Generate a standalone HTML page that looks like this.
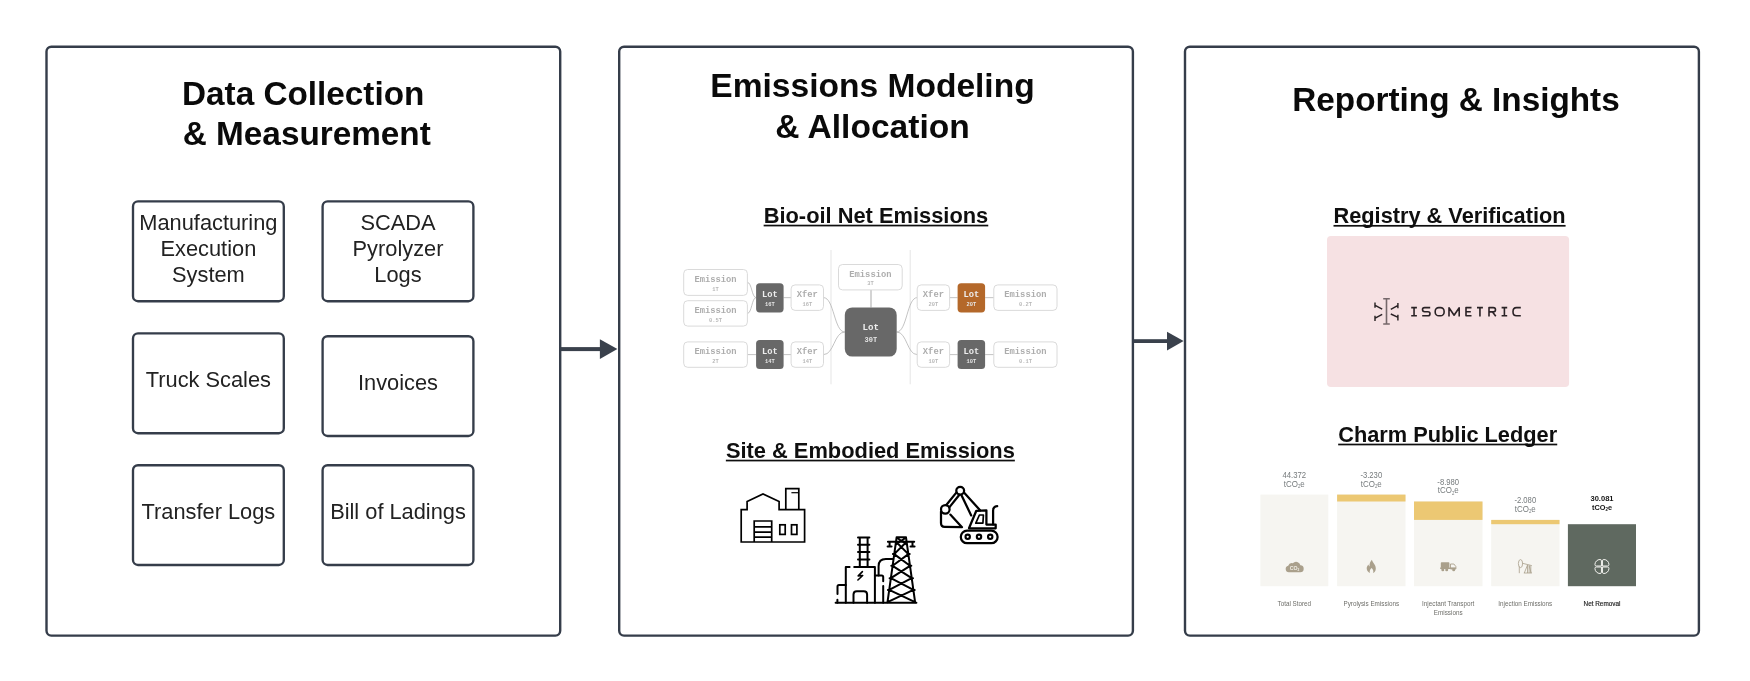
<!DOCTYPE html>
<html><head><meta charset="utf-8">
<style>
html,body{margin:0;padding:0;background:#fff;}
body{width:1750px;height:681px;overflow:hidden;font-family:"Liberation Sans",sans-serif;}
svg{display:block;}
text{font-family:"Liberation Sans",sans-serif;}
.t1{font-weight:bold;font-size:33.3px;fill:#0a0a0a;text-anchor:middle;}
.t2{font-weight:bold;font-size:21.85px;fill:#0f0f0f;text-anchor:middle;}
.bx{fill:#fff;stroke:#353d4a;stroke-width:2.35;}
.bt{font-size:21.8px;fill:#222;text-anchor:middle;}
.pn{fill:#fff;stroke:#353d4a;stroke-width:2.4;}
.mono{font-family:"Liberation Mono",monospace;font-weight:bold;text-anchor:middle;}
</style></head>
<body>
<svg width="1750" height="681" viewBox="0 0 1750 681" style="opacity:0.999">
<defs>
<filter id="bl" x="-5%" y="-5%" width="110%" height="110%"><feGaussianBlur stdDeviation="0.55"/></filter>
<filter id="bl2" x="-5%" y="-5%" width="110%" height="110%"><feGaussianBlur stdDeviation="0.45"/></filter>
<filter id="bl3" x="-5%" y="-10%" width="110%" height="120%"><feGaussianBlur stdDeviation="0.4"/></filter>
<filter id="bl4" x="-2%" y="-5%" width="104%" height="110%"><feGaussianBlur stdDeviation="0.68"/></filter>
</defs>
<!-- PANELS -->
<rect class="pn" x="46.5" y="46.7" width="513.7" height="588.9" rx="4.8"/>
<rect class="pn" x="619.2" y="46.7" width="513.7" height="588.9" rx="4.8"/>
<rect class="pn" x="1185" y="46.7" width="513.9" height="588.9" rx="4.8"/>
<!-- ARROWS -->
<g fill="#3a414c" stroke="none">
<rect x="561" y="347.1" width="40" height="4"/>
<polygon points="599.9,339.2 617.4,349.1 599.9,359.1"/>
<rect x="1134" y="339.2" width="34" height="3.8"/>
<polygon points="1167,331.8 1183.6,341.1 1167,350.4"/>
</g>
<!-- PANEL 1 -->
<g id="p1">
<text class="t1" x="303.2" y="104.7">Data Collection</text>
<text class="t1" x="306.8" y="144.5">&amp; Measurement</text>
<rect class="bx" x="133" y="201.4" width="150.8" height="99.8" rx="5"/>
<rect class="bx" x="322.6" y="201.4" width="150.8" height="99.8" rx="5"/>
<rect class="bx" x="133" y="333.4" width="150.8" height="99.8" rx="5"/>
<rect class="bx" x="322.6" y="336.2" width="150.8" height="99.8" rx="5"/>
<rect class="bx" x="133" y="465.2" width="150.8" height="99.8" rx="5"/>
<rect class="bx" x="322.6" y="465.2" width="150.8" height="99.8" rx="5"/>
<text class="bt" x="208.4" y="229.7">Manufacturing</text>
<text class="bt" x="208.4" y="255.7">Execution</text>
<text class="bt" x="208.4" y="281.6">System</text>
<text class="bt" x="398" y="229.7">SCADA</text>
<text class="bt" x="398" y="255.7">Pyrolyzer</text>
<text class="bt" x="398" y="281.6">Logs</text>
<text class="bt" x="208.4" y="386.6">Truck Scales</text>
<text class="bt" x="398" y="390">Invoices</text>
<text class="bt" x="208.4" y="518.6">Transfer Logs</text>
<text class="bt" x="398" y="518.6">Bill of Ladings</text>
</g>
<!-- PANEL 2 -->
<g id="p2">
<text class="t1" x="872.5" y="97.2" style="font-size:33.55px">Emissions Modeling</text>
<text class="t1" x="872.5" y="137.6" style="font-size:33.55px">&amp; Allocation</text>
<text class="t2" x="875.95" y="223.1" style="font-size:21.85px">Bio-oil Net Emissions</text><rect class="ul" x="763.65" y="224.70" width="224.61" height="1.7" fill="#0f0f0f"/>
<g id="nodes" filter="url(#bl)">
<path d="M831 250V384.3M910.2 250V384.3" stroke="#e2e2e2" stroke-width="0.9" fill="none"/>
<path d="M747.4 282.4C751.8 282.4 751.8 297.6 756.1 297.6M747.4 313.4C751.8 313.4 751.8 297.6 756.1 297.6M783.6 297.65H791.1M823.5 297.6C834.1 297.6 834.1 332.0 844.8 332.0M747.4 354.6H756.1M783.6 354.6H791.1M823.5 354.6C834.1 354.6 834.1 332.0 844.8 332.0M896.7 332.0C907.0 332.0 907.0 297.6 917.2 297.6M896.7 332.0C907.0 332.0 907.0 354.6 917.2 354.6M949.6 297.65H957.6M985.1 297.65H993.8M949.6 354.6H957.6M985.1 354.6H993.8" stroke="#b4b4b4" stroke-width="0.8" fill="none"/>
<path d="M871 289.9V307.4" stroke="#858585" stroke-width="0.7" fill="none"/>
<rect x="683.7" y="269.5" width="63.7" height="25.9" rx="4" fill="#fff" stroke="#d6d6d6" stroke-width="0.9"/>
<text class="mono" x="715.5" y="281.8" font-size="8.8" fill="#adadad">Emission</text><text class="mono" x="715.5" y="290.6" font-size="5.4" fill="#b8b8b8">1T</text>
<rect x="683.7" y="300.7" width="63.7" height="25.4" rx="4" fill="#fff" stroke="#d6d6d6" stroke-width="0.9"/>
<text class="mono" x="715.5" y="312.7" font-size="8.8" fill="#adadad">Emission</text><text class="mono" x="715.5" y="321.5" font-size="5.4" fill="#b8b8b8">0.5T</text>
<rect x="683.7" y="341.9" width="63.7" height="25.4" rx="4" fill="#fff" stroke="#d6d6d6" stroke-width="0.9"/>
<text class="mono" x="715.5" y="353.9" font-size="8.8" fill="#adadad">Emission</text><text class="mono" x="715.5" y="362.7" font-size="5.4" fill="#b8b8b8">2T</text>
<rect x="756.1" y="283.2" width="27.5" height="29.2" rx="3.6" fill="#686868"/>
<text class="mono" x="769.9" y="297.1" font-size="8.8" fill="#eeeeee">Lot</text><text class="mono" x="769.9" y="305.9" font-size="5.4" fill="#e6e6e6">16T</text>
<rect x="756.1" y="339.9" width="27.5" height="29.2" rx="3.6" fill="#686868"/>
<text class="mono" x="769.9" y="353.8" font-size="8.8" fill="#eeeeee">Lot</text><text class="mono" x="769.9" y="362.6" font-size="5.4" fill="#e6e6e6">14T</text>
<rect x="791.1" y="284.9" width="32.4" height="25.5" rx="4" fill="#fff" stroke="#d6d6d6" stroke-width="0.9"/>
<text class="mono" x="807.3" y="297.0" font-size="8.8" fill="#adadad">Xfer</text><text class="mono" x="807.3" y="305.7" font-size="5.4" fill="#b8b8b8">16T</text>
<rect x="791.1" y="341.9" width="32.4" height="25.4" rx="4" fill="#fff" stroke="#d6d6d6" stroke-width="0.9"/>
<text class="mono" x="807.3" y="353.9" font-size="8.8" fill="#adadad">Xfer</text><text class="mono" x="807.3" y="362.7" font-size="5.4" fill="#b8b8b8">14T</text>
<rect x="838.5" y="264.5" width="63.7" height="25.4" rx="4" fill="#fff" stroke="#d6d6d6" stroke-width="0.9"/>
<text class="mono" x="870.4" y="276.5" font-size="8.8" fill="#adadad">Emission</text><text class="mono" x="870.4" y="285.3" font-size="5.4" fill="#b8b8b8">3T</text>
<rect x="917.2" y="284.9" width="32.4" height="25.5" rx="4" fill="#fff" stroke="#d6d6d6" stroke-width="0.9"/>
<text class="mono" x="933.4" y="297.0" font-size="8.8" fill="#adadad">Xfer</text><text class="mono" x="933.4" y="305.7" font-size="5.4" fill="#b8b8b8">20T</text>
<rect x="917.2" y="341.9" width="32.4" height="25.4" rx="4" fill="#fff" stroke="#d6d6d6" stroke-width="0.9"/>
<text class="mono" x="933.4" y="353.9" font-size="8.8" fill="#adadad">Xfer</text><text class="mono" x="933.4" y="362.7" font-size="5.4" fill="#b8b8b8">10T</text>
<rect x="957.6" y="283.2" width="27.5" height="29.2" rx="3.6" fill="#b4682a"/>
<text class="mono" x="971.4" y="297.1" font-size="8.8" fill="#eeeeee">Lot</text><text class="mono" x="971.4" y="305.9" font-size="5.4" fill="#e6e6e6">20T</text>
<rect x="957.6" y="339.9" width="27.5" height="29.2" rx="3.6" fill="#686868"/>
<text class="mono" x="971.4" y="353.8" font-size="8.8" fill="#eeeeee">Lot</text><text class="mono" x="971.4" y="362.6" font-size="5.4" fill="#e6e6e6">10T</text>
<rect x="993.8" y="284.9" width="63.2" height="25.5" rx="4" fill="#fff" stroke="#d6d6d6" stroke-width="0.9"/>
<text class="mono" x="1025.4" y="297.0" font-size="8.8" fill="#adadad">Emission</text><text class="mono" x="1025.4" y="305.7" font-size="5.4" fill="#b8b8b8">0.2T</text>
<rect x="993.8" y="341.9" width="63.2" height="25.4" rx="4" fill="#fff" stroke="#d6d6d6" stroke-width="0.9"/>
<text class="mono" x="1025.4" y="353.9" font-size="8.8" fill="#adadad">Emission</text><text class="mono" x="1025.4" y="362.7" font-size="5.4" fill="#b8b8b8">0.1T</text>
<rect x="844.8" y="307.4" width="51.9" height="49.2" rx="7.5" fill="#686868"/>
<text class="mono" x="870.8" y="330.0" font-size="9.2" fill="#eeeeee">Lot</text><text class="mono" x="870.8" y="341.5" font-size="7.0" fill="#e6e6e6">30T</text>
</g>
<text class="t2" x="870.35" y="458.0" style="font-size:21.85px">Site &amp; Embodied Emissions</text><rect class="ul" x="725.86" y="459.70" width="288.99" height="1.7" fill="#0f0f0f"/>
<g id="factory" filter="url(#bl2)" fill="none" stroke="#000" stroke-width="1.7" stroke-linejoin="miter">
<path d="M741.2 542V509.6H747.1V501.5L763 494L779.1 501.5V509.6H804.6V542Z"/>
<path d="M785.8 509.6V488.6H798.8V509.6"/>
<path d="M791.4 492.7H798" stroke-width="1.2"/>
<path d="M754.2 542V521H771.7V542M754.2 526.8H771.7M754.2 532.1H771.7M754.2 537.2H771.7"/>
<rect x="779.8" y="524.8" width="5.4" height="9.6"/>
<rect x="791.5" y="524.8" width="5.4" height="9.6"/>
</g>
<g id="plant" filter="url(#bl2)" fill="none" stroke="#000" stroke-width="2" stroke-linejoin="round" stroke-linecap="round">
<path d="M835.6 602.7H916.4"/>
<path d="M896.6 537.3L887.5 602.2M906.0 537.3L915.1 602.2M896.6 537.3H906.0M896.0 541.75L908.4 554.1M906.6 541.75L894.2 554.1M894.2 554.1L910.0 565.8M908.4 554.1L892.6 565.8M892.6 565.8L911.7 578.2M910.0 565.8L890.9 578.2M890.9 578.2L913.4 589.9M911.7 578.2L889.2 589.9M889.2 589.9L915.1 602.2M913.4 589.9L887.5 602.2M897.6 538.3L906.1 544.25M905.0 538.3L896.5 544.25M887.9 541.8H914.2M889.6 541.8V546.3M912.5 541.8V546.3M887.6 546.5H891.6M910.5 546.5H914.6M892.9 554.1H895.2M907.4 554.1H909.7M891.3 565.8H893.6M909.0 565.8H911.3M889.6 578.2H891.9M910.7 578.2H913.0M887.9 589.9H890.2M912.4 589.9H914.7" stroke-width="2"/>
<path d="M845.8 602.7V567.1H849.6M854.2 567.1H874.9V602.7"/>
<path d="M859.8 567V537.4M867.6 567V537.4M858 537.4H869.4M858 544.8H869.4M858 552.1H869.4M858 559.4H869.4"/>
<path d="M845.8 584.9H839Q837.5 584.9 837.5 586.4V594M837.4 599.8V602.7"/>
<path d="M853.5 602.7V594.6Q853.5 591.3 856.8 591.3H863.8Q867.1 591.3 867.1 594.6V602.7"/>
<path d="M874.9 575.5H881.7Q883.2 575.5 883.2 577V581.2M883.2 586V602.7"/>
<path d="M878.6 575.5V566.3Q878.6 559.1 885.8 559.1H892.6"/>
<path d="M862.4 571.6L858.2 575.9L862.7 575.5L857.9 580" stroke-width="1.6"/>
</g>
<g id="excav" filter="url(#bl2)" fill="none" stroke="#000" stroke-width="2.25" stroke-linejoin="round" stroke-linecap="round">
<circle cx="960.2" cy="490.8" r="3.9"/>
<circle cx="945.3" cy="509.3" r="4.3"/>
<path d="M956.5 492.4L946.3 505.0M959.4 494.8L949.3 507.4"/>
<path d="M941 511.5V523Q941 526.9 944.6 526.9L962 527.2L950.3 514.6"/>
<path d="M964.2 492.8L980.3 510.4M961.6 495.6L971.2 515.4"/>
<path d="M969 528.3L976.3 510.8L986.4 510.4V524.6H995.7V528.3Z"/>
<path d="M979.4 515H983.4L982.9 523.2H975.8Z" stroke-width="1.7"/>
<path d="M993.1 524.4V510.6Q993.1 506.6 997.2 506.2"/>
<rect x="960.8" y="530.6" width="36.8" height="12.6" rx="6.3"/>
<circle cx="967.7" cy="536.8" r="2.2" stroke-width="2.1"/>
<circle cx="979" cy="536.8" r="2.2" stroke-width="2.1"/>
<circle cx="990.2" cy="536.8" r="2.2" stroke-width="2.1"/>
</g>
</g>
<!-- PANEL 3 -->
<g id="p3">
<text class="t1" x="1456" y="110.6">Reporting &amp; Insights</text>
<text class="t2" x="1449.55" y="223.1" style="font-size:21.75px">Registry &amp; Verification</text><rect class="ul" x="1333.51" y="224.95" width="232.08" height="1.7" fill="#0f0f0f"/>
<rect x="1327" y="235.9" width="242.1" height="151.2" rx="4" fill="#f6e1e3"/>
<g id="iso" filter="url(#bl3)" fill="none" stroke="#2b2426" stroke-width="1.6" stroke-linejoin="round">
<path d="M1386.5 298.7V324M1383.2 298.7H1389.8M1383.2 324H1389.8" stroke="#75676a" stroke-width="1.6"/>
<path d="M1375 302.6V307.8M1375.2 305.4L1382.2 309.2M1375 315.8V321M1375.2 318.1L1382.2 314.3M1397.9 303V308.2M1397.6 305.6L1390.8 309.4M1397.9 314.8V320.4M1397.6 317.2L1390.8 314" stroke-width="1.45"/>
<path d="M1411.2 307.6H1416.9M1414.05 307.6V315.8M1411.2 315.8H1416.9"/>
<path d="M1430.2 307.6H1424.6Q1422.5 307.6 1422.5 309.6Q1422.5 311.7 1424.6 311.7H1427.9Q1430 311.7 1430 313.7Q1430 315.8 1427.9 315.8H1422.2"/>
<rect x="1435.2" y="307.6" width="8.9" height="8.2" rx="3.6"/>
<path d="M1449 316.4V307.8L1454.1 315.2L1459.2 307.8V316.4"/>
<path d="M1471.5 307.6H1466V315.8H1471.5M1466 311.7H1470.8"/>
<path d="M1477 307.6H1482.9M1479.95 307.6V316.4"/>
<path d="M1489 316.4V307.6H1493.3Q1495.5 307.6 1495.5 309.7Q1495.5 311.9 1493.3 311.9H1489M1492.5 311.9L1495.8 316.2"/>
<path d="M1501.6 307.6H1507.2M1504.4 307.6V315.8M1501.6 315.8H1507.2"/>
<path d="M1520.8 307.6H1516.5Q1513 307.6 1513 311.7Q1513 315.8 1516.5 315.8H1520.8"/>
</g>
<text class="t2" x="1447.7" y="441.9" style="font-size:21.78px">Charm Public Ledger</text><rect class="ul" x="1338.17" y="443.65" width="219.06" height="1.7" fill="#0f0f0f"/>
<g id="chart" filter="url(#bl4)">
<rect x="1260.4" y="494.6" width="67.9" height="91.6" fill="#f6f5f1"/>
<rect x="1337.1" y="494.6" width="68.4" height="91.6" fill="#f6f5f1"/>
<rect x="1337.1" y="494.6" width="68.4" height="6.9" fill="#ecc873"/>
<rect x="1414.0" y="501.5" width="68.5" height="84.7" fill="#f6f5f1"/>
<rect x="1414.0" y="501.5" width="68.5" height="18.4" fill="#ecc873"/>
<rect x="1491.2" y="519.9" width="68.3" height="66.3" fill="#f6f5f1"/>
<rect x="1491.2" y="519.9" width="68.3" height="4.3" fill="#ecc873"/>
<rect x="1567.9" y="524.2" width="68.1" height="62.0" fill="#5f6960"/>
<text x="1294.3" y="478.0" text-anchor="middle" font-size="8.6" fill="#757a7c" textLength="23.7" lengthAdjust="spacingAndGlyphs">44.372</text>
<text x="1294.3" y="486.7" text-anchor="middle" font-size="8.6" fill="#757a7c" textLength="21" lengthAdjust="spacingAndGlyphs">tCO<tspan font-size="4.6" dy="1.2">2</tspan><tspan dy="-1.2">e</tspan></text>
<text x="1371.3" y="478.0" text-anchor="middle" font-size="8.6" fill="#757a7c" textLength="21.7" lengthAdjust="spacingAndGlyphs">-3.230</text>
<text x="1371.3" y="486.7" text-anchor="middle" font-size="8.6" fill="#757a7c" textLength="21" lengthAdjust="spacingAndGlyphs">tCO<tspan font-size="4.6" dy="1.2">2</tspan><tspan dy="-1.2">e</tspan></text>
<text x="1448.2" y="484.5" text-anchor="middle" font-size="8.6" fill="#757a7c" textLength="21.7" lengthAdjust="spacingAndGlyphs">-8.980</text>
<text x="1448.2" y="493.3" text-anchor="middle" font-size="8.6" fill="#757a7c" textLength="21" lengthAdjust="spacingAndGlyphs">tCO<tspan font-size="4.6" dy="1.2">2</tspan><tspan dy="-1.2">e</tspan></text>
<text x="1525.3" y="503.0" text-anchor="middle" font-size="8.6" fill="#757a7c" textLength="21.7" lengthAdjust="spacingAndGlyphs">-2.080</text>
<text x="1525.3" y="511.8" text-anchor="middle" font-size="8.6" fill="#757a7c" textLength="21" lengthAdjust="spacingAndGlyphs">tCO<tspan font-size="4.6" dy="1.2">2</tspan><tspan dy="-1.2">e</tspan></text>
<text x="1602.0" y="501.2" text-anchor="middle" font-size="7.6" font-weight="bold" fill="#151515" textLength="23.0" lengthAdjust="spacingAndGlyphs">30.081</text>
<text x="1602.0" y="510.0" text-anchor="middle" font-size="7.6" font-weight="bold" fill="#151515" textLength="20" lengthAdjust="spacingAndGlyphs">tCO<tspan font-size="4.6" dy="1.2">2</tspan><tspan dy="-1.2">e</tspan></text>
<text x="1294.3" y="605.8" text-anchor="middle" font-size="6.3" fill="#6e6e69">Total Stored</text>
<text x="1371.3" y="605.8" text-anchor="middle" font-size="6.3" fill="#6e6e69">Pyrolysis Emissions</text>
<text x="1448.2" y="605.8" text-anchor="middle" font-size="6.3" fill="#6e6e69">Injectant Transport</text>
<text x="1448.2" y="615.1" text-anchor="middle" font-size="6.3" fill="#6e6e69">Emissions</text>
<text x="1525.3" y="605.8" text-anchor="middle" font-size="6.3" fill="#6e6e69">Injection Emissions</text>
<text x="1602.0" y="605.8" text-anchor="middle" font-size="6.4" fill="#1c1c1c" stroke="#1c1c1c" stroke-width="0.15">Net Removal</text>
<path d="M1288.8 572.3a3.3 3.3 0 0 1 -0.6 -6.5a3.9 3.9 0 0 1 4.6 -2.6a4.4 4.4 0 0 1 7.6 2.1a3.5 3.5 0 0 1 -0.4 7z" fill="#aaa08c"/>
<text x="1294.5" y="569.6" text-anchor="middle" font-size="5.2" font-weight="bold" fill="#f1eee6">CO<tspan font-size="3.2" dy="0.9">2</tspan></text>
<path d="M1371.9 559.8c0.6 3 3.9 4.6 3.9 8.6c0 2.4 -1.3 3.9 -2.7 4.5c0.6 -1.6 0.2 -3.5 -1.5 -4.9c-1.6 1.4 -2.2 3.1 -1.7 4.9c-1.6 -0.6 -3.2 -2.2 -3.2 -4.6c0 -1.7 0.9 -3 1.8 -3.9c0.1 1 0.5 1.7 1.1 2.1c-0.3 -2.5 0.6 -5 2.3 -6.7z" fill="#aaa08c"/>
<g fill="#aaa08c"><rect x="1440.8" y="562.3" width="8.6" height="5.6" rx="0.8"/><rect x="1440.2" y="567.4" width="15.6" height="1.6"/><path d="M1450.5 564h3.4l2 2.6v2.4h-5.4z" fill="none" stroke="#aaa08c" stroke-width="0.9"/><circle cx="1442.8" cy="569.8" r="1.5"/><circle cx="1446.7" cy="569.8" r="1.5"/><circle cx="1453.7" cy="569.8" r="1.5"/></g>
<g fill="none" stroke="#aaa08c" stroke-width="0.8"><ellipse cx="1520.5" cy="563.6" rx="2.1" ry="4"/><path d="M1519.3 566.5V573.2M1522.1 563.2L1531.8 565.6M1527.5 565V573M1529.1 565.4V573M1527.5 565L1524.3 573M1529.1 565.4L1531.1 573M1523.8 573H1531.9M1530.8 565.6V573"/></g>
<g transform="translate(1601.95 566.5)" fill="none" stroke="#f4f4f0" stroke-width="1.0" stroke-linejoin="round"><path transform="rotate(0)" d="M0.5 -0.5V-5.6Q0.5 -7 1.9 -7A5.1 5.1 0 0 1 7 -1.9Q7 -0.5 5.6 -0.5Z"/><path transform="rotate(90)" d="M0.5 -0.5V-5.6Q0.5 -7 1.9 -7A5.1 5.1 0 0 1 7 -1.9Q7 -0.5 5.6 -0.5Z"/><path transform="rotate(180)" d="M0.5 -0.5V-5.6Q0.5 -7 1.9 -7A5.1 5.1 0 0 1 7 -1.9Q7 -0.5 5.6 -0.5Z"/><path transform="rotate(270)" d="M0.5 -0.5V-5.6Q0.5 -7 1.9 -7A5.1 5.1 0 0 1 7 -1.9Q7 -0.5 5.6 -0.5Z"/></g>
</g><!--chartend-->
</g>
</svg>
</body></html>
